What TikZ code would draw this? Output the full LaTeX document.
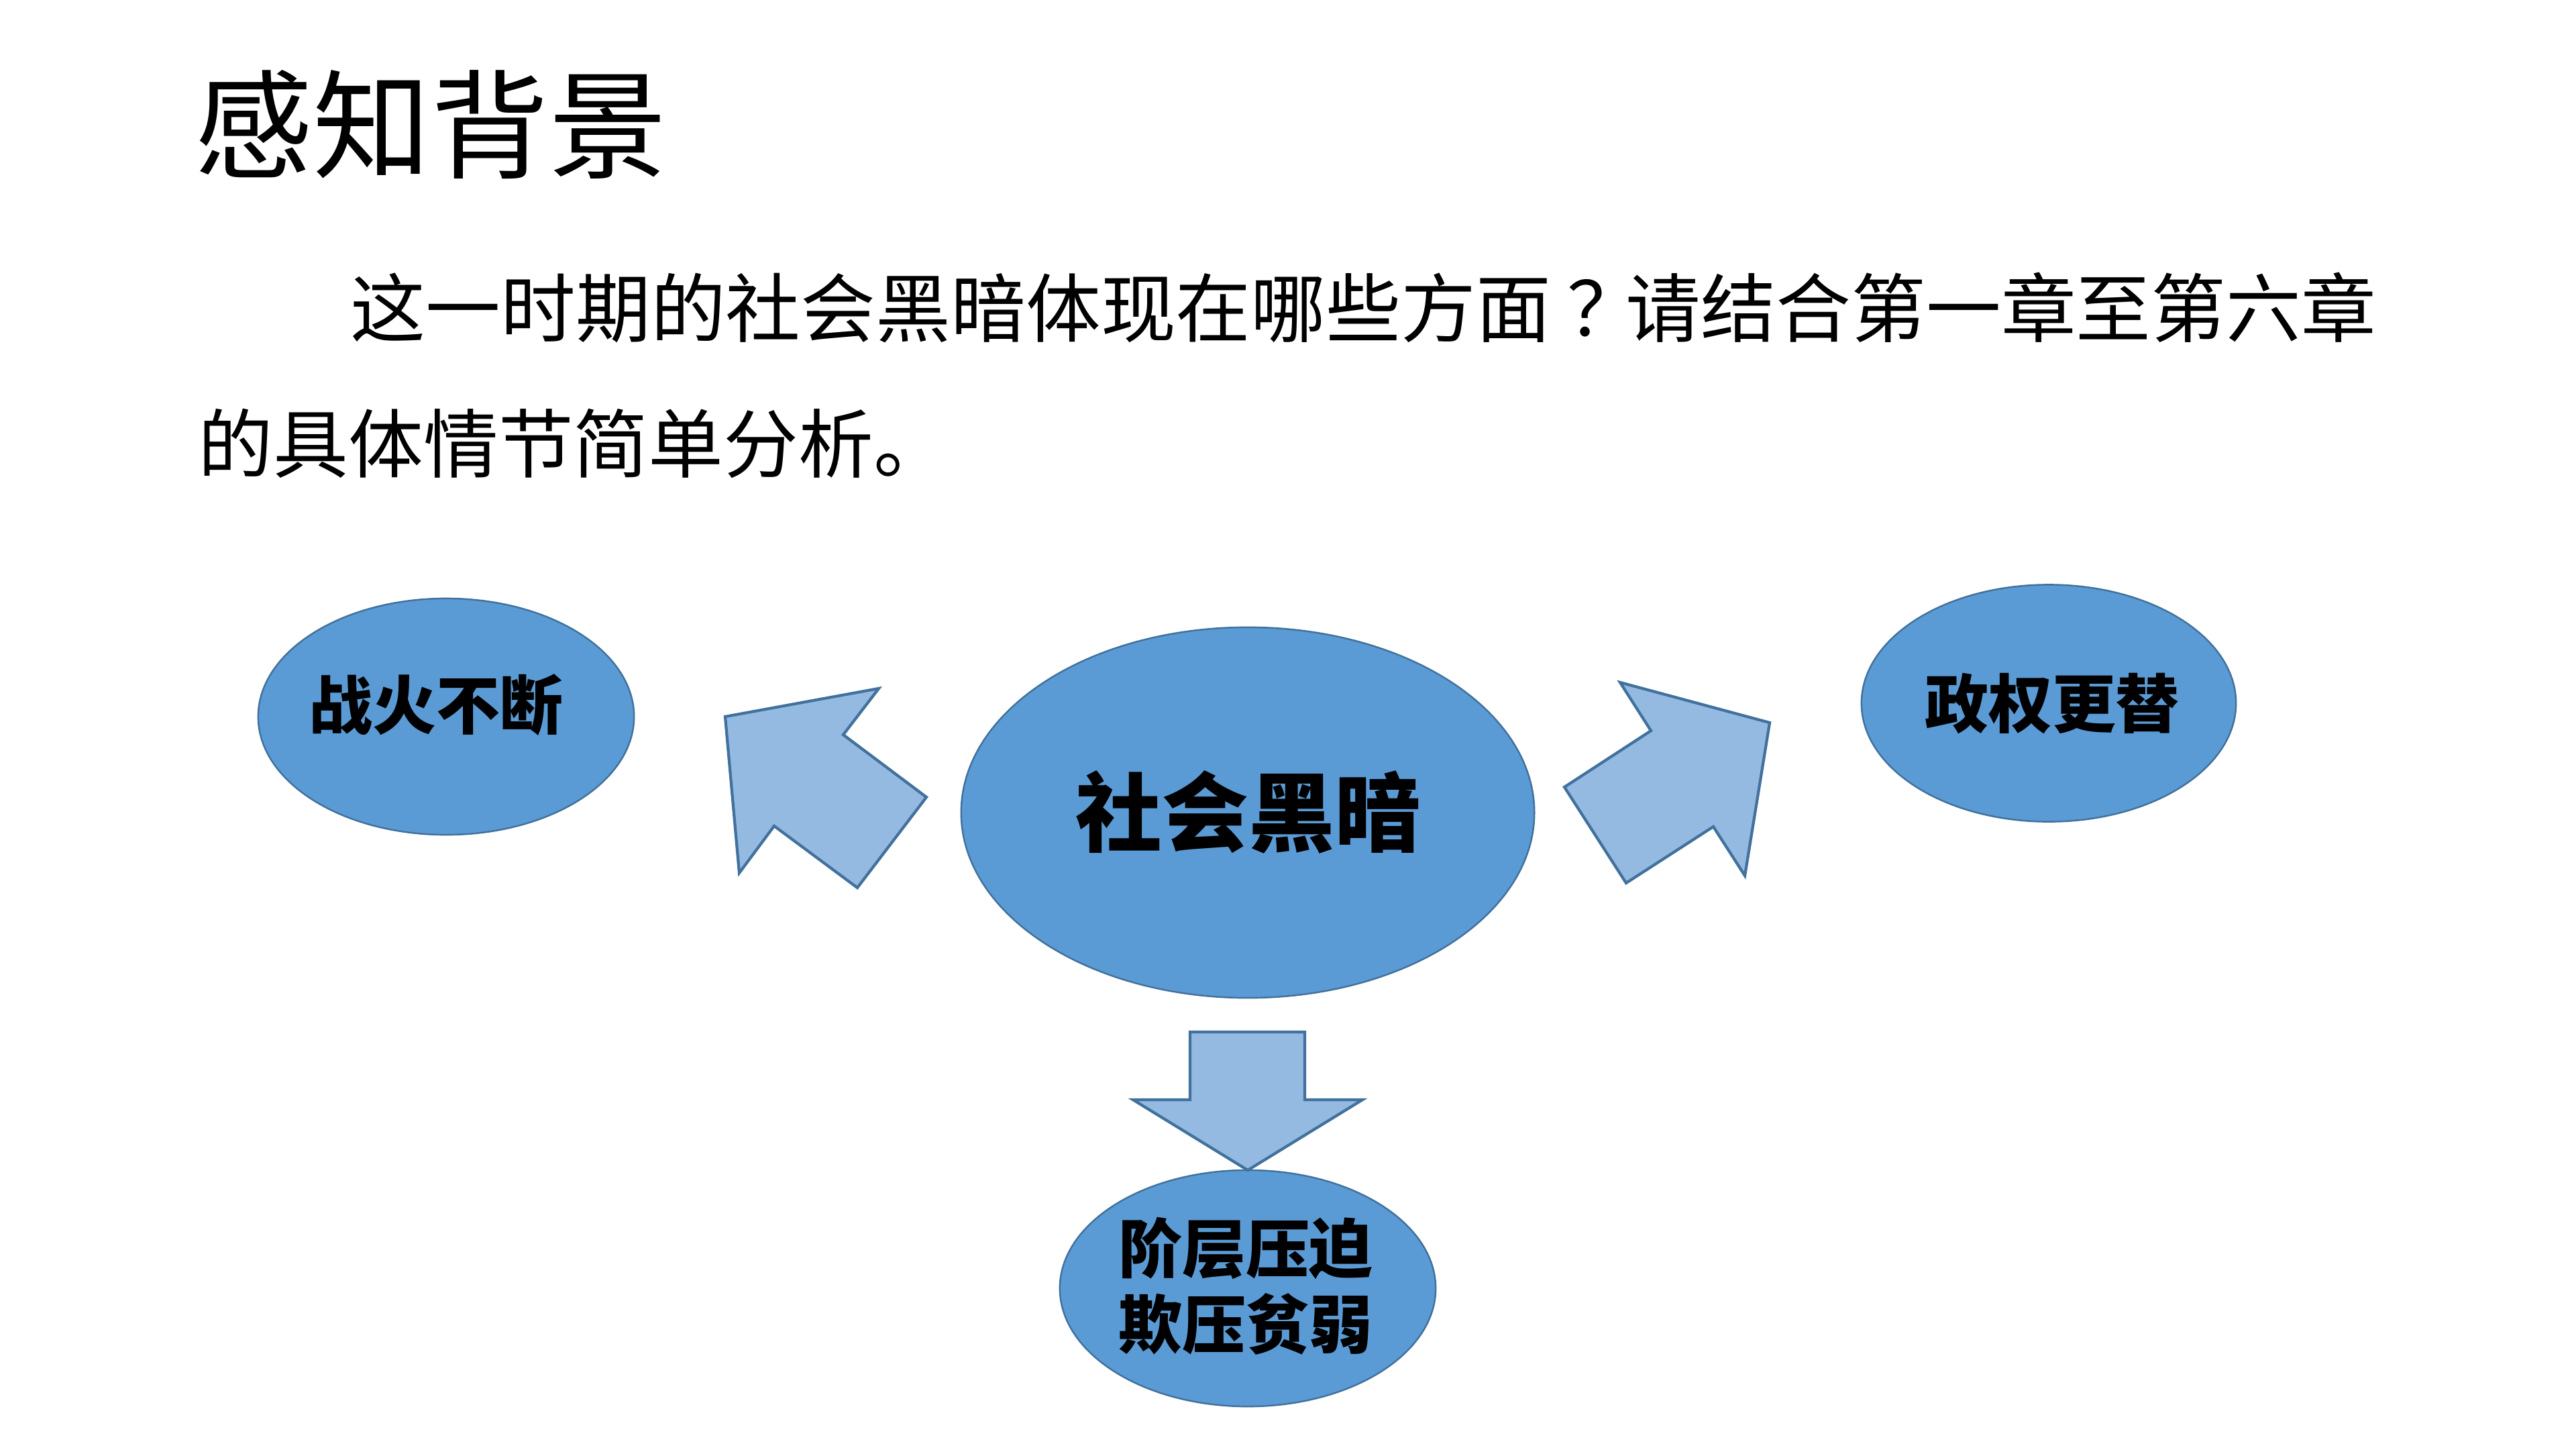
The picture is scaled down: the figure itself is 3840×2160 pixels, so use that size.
\documentclass[tikz,border=0pt]{standalone}
\usepackage{fontspec}
\setmainfont{Noto Sans CJK SC}
\usetikzlibrary{shapes.geometric}
\definecolor{ellfill}{HTML}{5B9BD5}
\definecolor{ellline}{HTML}{41719C}
\definecolor{arrfill}{HTML}{94BAE2}
\tikzset{
  ell/.style={ellipse, draw=ellline, fill=ellfill, line width=0.7pt, inner sep=0pt},
  blockarrow/.style={draw=ellline, fill=arrfill, line width=1.2pt, line join=miter},
  lbl/.style={inner sep=0pt, font=\bfseries\fontsize{27}{32}\selectfont, text=black},
  plain/.style={inner sep=0pt, anchor=west, text=black}
}
\begin{document}
\begin{tikzpicture}[x=0.01cm, y=-0.01cm]
\path[fill=white, use as bounding box] (0,0) rectangle (3840,2160);

% title and question
\node[plain, font=\fontsize{50}{60}\selectfont] (title) at (290,186) {感知背景};
\node[plain, font=\fontsize{31.8}{38}\selectfont] (q1) at (522,458) {这一时期的社会黑暗体现在哪些方面\hspace{7pt}？\hspace{-7pt}请结合第一章至第六章};
\node[plain, font=\fontsize{31.8}{38}\selectfont] (q2) at (295,661) {的具体情节简单分析。};

% ellipses
\node[ell, minimum width=5.6cm, minimum height=3.52cm] (war) at (665,1068) {};
\node[ell, minimum width=8.54cm, minimum height=5.52cm] (dark) at (1860,1211) {};
\node[ell, minimum width=5.58cm, minimum height=3.53cm] (regime) at (3054,1048) {};
\node[ell, minimum width=5.6cm, minimum height=3.52cm] (oppress) at (1860,1920) {};

% labels
\node[lbl] (warT) at (650,1051) {战火不断};
\node[lbl, font=\bfseries\fontsize{36.6}{44}\selectfont] (darkT) at (1861,1210) {社会黑暗};
\node[lbl] (regimeT) at (3059,1049) {政权更替};
\node[lbl, align=center, font=\bfseries\fontsize{27}{32.2}\selectfont] (oppressT) at (1857,1917) {阶层压迫\\欺压贫弱};

% block arrows
\draw[blockarrow] (1081,1068) -- (1310,1026) -- (1257,1095) -- (1381,1188)
  -- (1278,1323) -- (1154,1231) -- (1102,1301) -- cycle;
\draw[blockarrow] (2638,1077) -- (2601,1305) -- (2554,1232) -- (2424,1316)
  -- (2332,1173) -- (2461,1089) -- (2415,1017) -- cycle;
\draw[blockarrow] (1774,1538) -- (1945,1538) -- (1945,1639) -- (2031,1639)
  -- (1860,1744) -- (1689,1639) -- (1774,1639) -- cycle;
\end{tikzpicture}
\end{document}
